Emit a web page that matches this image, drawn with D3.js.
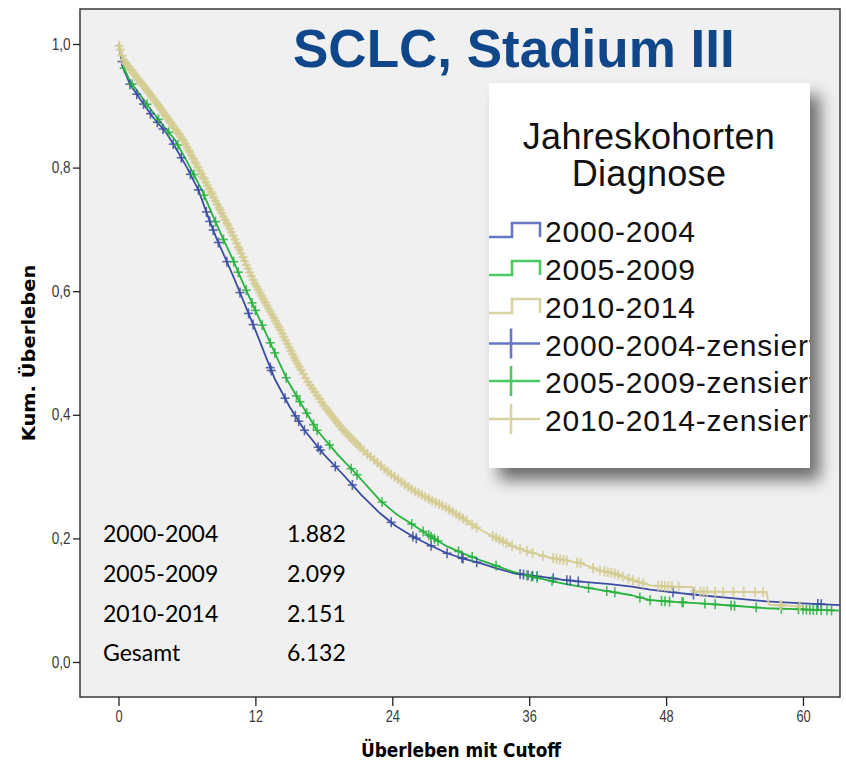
<!DOCTYPE html>
<html>
<head>
<meta charset="utf-8">
<script src="https://cdn.jsdelivr.net/npm/d3@7"></script>
<style>
  html, body { margin: 0; padding: 0; background: #ffffff; }
  svg { display: block; }
</style>
</head>
<body>
<svg id="chart" width="846" height="772"></svg>
<script>
// ---- Kaplan-Meier estimates per diagnosis cohort: [month, cumulative survival] ----
const surv2000 = [[0,1.000],[0.4,0.962],[1,0.935],[2,0.908],[3,0.882],[4.2,0.856],[5,0.832],[6,0.800],[7,0.764],[8,0.713],[8.6,0.685],[9.4,0.652],[10.2,0.618],[11,0.582],[12,0.537],[13,0.490],[13.7,0.458],[15,0.413],[16.3,0.375],[18,0.336],[19.7,0.303],[21.3,0.270],[22.9,0.241],[24.3,0.220],[25.8,0.203],[27.3,0.189],[28.8,0.176],[30.3,0.167],[31.7,0.160],[33.2,0.151],[34.6,0.144],[36,0.140],[37.5,0.137],[39,0.133],[40.5,0.130],[43.1,0.126],[45,0.122],[46.6,0.117],[49,0.112],[51,0.108],[54,0.103],[56.8,0.098],[60,0.095],[63.3,0.092]];
const surv2005 = [[0,1.000],[0.4,0.965],[1,0.940],[2,0.915],[3,0.890],[4,0.866],[4.95,0.845],[6,0.810],[7.3,0.764],[8.2,0.725],[9.04,0.690],[10,0.652],[10.8,0.618],[11.8,0.577],[12.8,0.537],[13.8,0.496],[14.8,0.456],[16,0.418],[17.4,0.375],[19.2,0.336],[20.9,0.303],[22.9,0.262],[24.3,0.240],[25.8,0.222],[27.3,0.204],[28.8,0.187],[30.3,0.175],[31.7,0.165],[33.2,0.155],[34.6,0.146],[36,0.139],[37.5,0.133],[39,0.127],[40.5,0.122],[43.1,0.114],[45,0.108],[46.6,0.100],[49,0.097],[51,0.095],[54,0.091],[56.8,0.087],[60,0.085],[63.3,0.083]];
const surv2010 = [[0,1.000],[0.4,0.975],[1.3,0.953],[2.5,0.925],[3.6,0.898],[4.6,0.872],[5.65,0.845],[6.8,0.806],[8,0.764],[9,0.728],[10,0.692],[10.9,0.655],[11.8,0.618],[13,0.577],[14.2,0.537],[15.3,0.496],[16.5,0.456],[18,0.415],[19.7,0.375],[21.7,0.338],[23.8,0.305],[25.8,0.278],[27.3,0.263],[28.8,0.249],[30.3,0.231],[31.7,0.214],[33.2,0.200],[34.6,0.187],[36,0.178],[37.5,0.170],[39,0.165],[40.5,0.160],[42.2,0.148],[43.5,0.143],[45,0.133],[46.6,0.124],[48.5,0.122],[50.3,0.121],[50.5,0.114],[56.8,0.113],[57,0.093],[59.8,0.090]];

// ---- censored observations (month of censoring) ----
const cens2000 = [0.3,1.0,1.6,2.2,2.8,3.4,3.9,4.8,5.5,6.3,7.0,7.7,8.0,8.3,8.75,9.5,10.65,11.4,11.8,13.3,13.4,14.6,15.5,15.8,16.3,17.5,17.7,19.0,20.5,23.9,25.8,26.1,27.4,28.8,30.1,30.2,31.4,35.2,35.5,35.9,36.3,36.7,38.1,39.3,39.6,40.3,48.6,50.4,61.3,61.6];
const cens2005 = [0.5,1.2,2.5,3.5,4.4,5.2,6.6,7.5,8.5,9.2,10.1,10.5,11.2,11.7,12.0,12.6,13.3,13.7,14.7,15.6,15.9,16.5,17.1,17.4,18.5,20.4,20.9,23.1,25.7,26.7,27.2,27.4,27.7,28.0,29.8,31.0,33.1,35.8,36.2,36.7,38.0,41.2,42.8,43.5,45.7,46.6,47.6,47.9,48.3,49.4,49.5,51.4,52.3,53.7,54.0,55.9,58.1,59.6,60.0,60.3,60.6,60.9,61.2,61.6,62.1,62.5];
const cens2010 = [0.05,0.15,0.3,0.45,0.6,0.7,0.85,1.0,1.1,1.25,1.4,1.55,1.7,1.8,1.95,2.1,2.2,2.35,2.5,2.6,2.75,2.9,3.0,3.15,3.3,3.45,3.5,3.65,3.8,3.95,4.1,4.2,4.35,4.5,4.6,4.75,4.9,5.05,5.2,5.3,5.45,5.6,5.7,5.85,6.0,6.15,6.25,6.4,6.55,6.7,6.8,6.95,7.1,7.25,7.4,7.5,7.65,7.8,7.95,8.1,8.2,8.35,8.5,8.65,8.8,8.9,9.05,9.2,9.35,9.5,9.6,9.75,9.9,10.05,10.2,10.35,10.5,10.6,10.75,10.9,11.05,11.2,11.35,11.5,11.65,11.8,11.95,12.1,12.25,12.4,12.55,12.7,12.85,13.0,13.15,13.3,13.45,13.6,13.75,13.9,14.05,14.2,14.35,14.5,14.65,14.8,14.95,15.1,15.25,15.4,15.55,15.7,15.85,16.0,16.2,16.4,16.6,16.8,17.0,17.2,17.4,17.6,17.8,18.0,18.2,18.4,18.6,18.8,19.0,19.2,19.4,19.6,19.8,20.0,20.2,20.4,20.6,20.8,21.0,21.2,21.5,21.8,22.1,22.4,22.7,23.0,23.3,23.6,23.9,24.2,24.5,24.8,25.1,25.4,25.7,26.0,26.3,26.6,26.9,27.2,27.5,27.8,28.1,28.4,28.7,29.0,29.3,29.6,29.9,30.2,30.5,31.0,31.4,32.8,33.1,33.4,33.7,34.0,34.5,35.2,35.8,36.3,37.2,38.1,38.4,38.7,39.0,39.3,40.2,40.5,41.6,42.2,42.6,42.9,43.2,43.5,43.8,44.2,44.7,45.1,45.6,46.0,47.3,47.6,47.9,48.2,48.5,49.1,50.5,51.0,51.3,51.6,52.3,53.0,53.9,54.8,55.8,56.5,58.0,58.1,59.7];

// ---- labels ----
const cohortNames = ["2000-2004", "2005-2009", "2010-2014"];
const cohortColors = ["#3b4ea3", "#28b23e", "#d5cd94"];
const legendSymbolColors = ["#6677c4", "#4cc963", "#d9d3a4"];
const caseCounts = ["1.882", "2.099", "2.151", "6.132"];
const caseRows = ["2000-2004", "2005-2009", "2010-2014", "Gesamt"];
const xTicks = [0, 12, 24, 36, 48, 60];
const yTicks = [0, 0.2, 0.4, 0.6, 0.8, 1.0];

const survival = [surv2000, surv2005, surv2010];
const censored = [cens2000, cens2005, cens2010];

// ---- layout ----
const frame = { left: 80, top: 9, right: 840, bottom: 697 };
const x = d3.scaleLinear().domain([0, 60]).range([118.5, 803]);
const y = d3.scaleLinear().domain([0, 1]).range([662, 44]);

const svg = d3.select("#chart");
const defs = svg.append("defs");

defs.append("clipPath").attr("id", "plotClip")
  .append("rect")
  .attr("x", frame.left).attr("y", frame.top)
  .attr("width", frame.right - frame.left).attr("height", frame.bottom - frame.top);

const shadow = defs.append("filter").attr("id", "legendShadow")
  .attr("x", "-10%").attr("y", "-10%").attr("width", "130%").attr("height", "130%");
shadow.append("feDropShadow")
  .attr("dx", 10).attr("dy", 12).attr("stdDeviation", 8)
  .attr("flood-color", "#000").attr("flood-opacity", 0.55);

// plot background and frame
svg.append("rect")
  .attr("x", frame.left).attr("y", frame.top)
  .attr("width", frame.right - frame.left).attr("height", frame.bottom - frame.top)
  .attr("fill", "#f0f0f0").attr("stroke", "#3a3a3a").attr("stroke-width", 1.5);

// axes
const decimalComma = d3.formatLocale({ decimal: ",", thousands: ".", grouping: [3], currency: ["", "€"] }).format(".1f");
const tickFont = "'Liberation Sans', Arial, sans-serif";

const yAxis = svg.append("g")
  .attr("transform", `translate(${frame.left},0)`)
  .call(d3.axisLeft(y).tickValues(yTicks).tickSize(7).tickPadding(4).tickFormat(decimalComma));
yAxis.select(".domain").remove();
yAxis.selectAll(".tick line").attr("stroke", "#222").attr("stroke-width", 1.3);
yAxis.selectAll(".tick text")
  .attr("fill", "#3a3a3a")
  .style("font-family", tickFont)
  .style("font-size", "16px")
  .attr("transform", "scale(0.85,1)");

const xAxis = svg.append("g")
  .attr("transform", `translate(0,${frame.bottom})`)
  .call(d3.axisBottom(x).tickValues(xTicks).tickSize(9).tickPadding(5));
xAxis.select(".domain").remove();
xAxis.selectAll(".tick line").attr("stroke", "#222").attr("stroke-width", 1.3);
xAxis.selectAll(".tick text")
  .attr("fill", "#3a3a3a")
  .style("font-family", tickFont)
  .style("font-size", "16px")
  .attr("transform", "scale(0.8,1)");

// axis titles (horizontally compressed, as in the chart export)
const titleFont = "'DejaVu Sans', Verdana, sans-serif";
svg.append("text")
  .attr("transform", "translate(461,757) scale(0.87,1)")
  .attr("text-anchor", "middle")
  .style("font-family", titleFont)
  .style("font-weight", "bold").style("font-size", "19.5px")
  .attr("fill", "#000")
  .text("Überleben mit Cutoff");

svg.append("text")
  .attr("transform", "translate(35,353) scale(0.87,1) rotate(-90)")
  .attr("text-anchor", "middle")
  .style("font-family", titleFont)
  .style("font-weight", "bold").style("font-size", "19.5px")
  .attr("fill", "#000")
  .text("Kum. Überleben");

// survival curves
const plot = svg.append("g").attr("clip-path", "url(#plotClip)");
const line = d3.line().x(d => x(d[0])).y(d => y(d[1])).curve(d3.curveLinear);

survival.forEach((s, i) => {
  plot.append("path")
    .datum(s)
    .attr("d", line)
    .attr("fill", "none")
    .attr("stroke", cohortColors[i])
    .attr("stroke-width", 1.8)
    .attr("stroke-linejoin", "round");
});

// survival value at a given month
const bis = d3.bisector(d => d[0]).right;
function survAt(series, t) {
  const i = bis(series, t);
  if (i <= 0) return series[0][1];
  if (i >= series.length) return series[series.length - 1][1];
  const a = series[i - 1], b = series[i];
  const f = (t - a[0]) / (b[0] - a[0]);
  return a[1] + f * (b[1] - a[1]);
}

// censoring marks ("+")
censored.forEach((c, i) => {
  const g = plot.append("g")
    .attr("stroke", cohortColors[i])
    .attr("stroke-width", i === 2 ? 2 : 1.6)
    .attr("stroke-opacity", 0.85);
  c.forEach(t => {
    const cx = x(t), cy = y(survAt(survival[i], t));
    g.append("line").attr("x1", cx).attr("x2", cx).attr("y1", cy - 5).attr("y2", cy + 5);
    g.append("line").attr("x1", cx - 4.5).attr("x2", cx + 4.5).attr("y1", cy).attr("y2", cy);
  });
});

// case counts table
const table = svg.append("g")
  .style("font-family", "Lato, 'Open Sans', sans-serif")
  .style("font-size", "23px")
  .attr("fill", "#000");
const rowBase = [542, 582, 621.5, 661];
caseRows.forEach((r, i) => {
  table.append("text").attr("x", 103).attr("y", rowBase[i]).text(r);
  table.append("text").attr("x", 287).attr("y", rowBase[i]).text(caseCounts[i]);
});

// title
svg.append("text")
  .attr("x", 293).attr("y", 67)
  .style("font-family", "'Liberation Sans', Arial, sans-serif")
  .style("font-weight", "bold").style("font-size", "53px")
  .attr("fill", "#10468a")
  .text("SCLC, Stadium III");

// legend
const lg = { x: 489, y: 83, w: 321, h: 385 };
defs.append("clipPath").attr("id", "legendClip")
  .append("rect").attr("x", lg.x).attr("y", lg.y).attr("width", lg.w).attr("height", lg.h);

svg.append("rect")
  .attr("x", lg.x).attr("y", lg.y).attr("width", lg.w).attr("height", lg.h)
  .attr("fill", "#ffffff")
  .attr("filter", "url(#legendShadow)");

const legend = svg.append("g")
  .attr("clip-path", "url(#legendClip)")
  .style("font-family", "'Liberation Sans', Arial, sans-serif")
  .attr("fill", "#111");

legend.append("text").attr("x", 649).attr("y", 149).attr("text-anchor", "middle")
  .style("font-size", "36px").style("letter-spacing", "0.3px").text("Jahreskohorten");
legend.append("text").attr("x", 649).attr("y", 186).attr("text-anchor", "middle")
  .style("font-size", "36px").style("letter-spacing", "0.3px").text("Diagnose");

const itemBase = [242, 280, 318, 355.5, 393, 431];
const legendItems = cohortNames.map((n, i) => ({ label: n, kind: "step", idx: i }))
  .concat(cohortNames.map((n, i) => ({ label: n + "-zensiert", kind: "cens", idx: i })));

legendItems.forEach((it, k) => {
  const base = itemBase[k];
  const col = legendSymbolColors[it.idx];
  if (it.kind === "step") {
    const lo = base - 5, hi = base - 19;
    legend.append("path")
      .attr("d", `M${lg.x},${lo}H512V${hi}H540V${lo}`)
      .attr("fill", "none").attr("stroke", col).attr("stroke-width", 2.6);
  } else {
    const mid = base - 12;
    legend.append("line").attr("x1", lg.x).attr("x2", 540).attr("y1", mid).attr("y2", mid)
      .attr("stroke", col).attr("stroke-width", 2.6);
    legend.append("line").attr("x1", 511).attr("x2", 511).attr("y1", mid - 15).attr("y2", mid + 15)
      .attr("stroke", col).attr("stroke-width", 2.6);
  }
  legend.append("text").attr("x", 545).attr("y", base)
    .style("font-size", "30px").style("letter-spacing", "0.8px").text(it.label);
});
</script>
</body>
</html>
